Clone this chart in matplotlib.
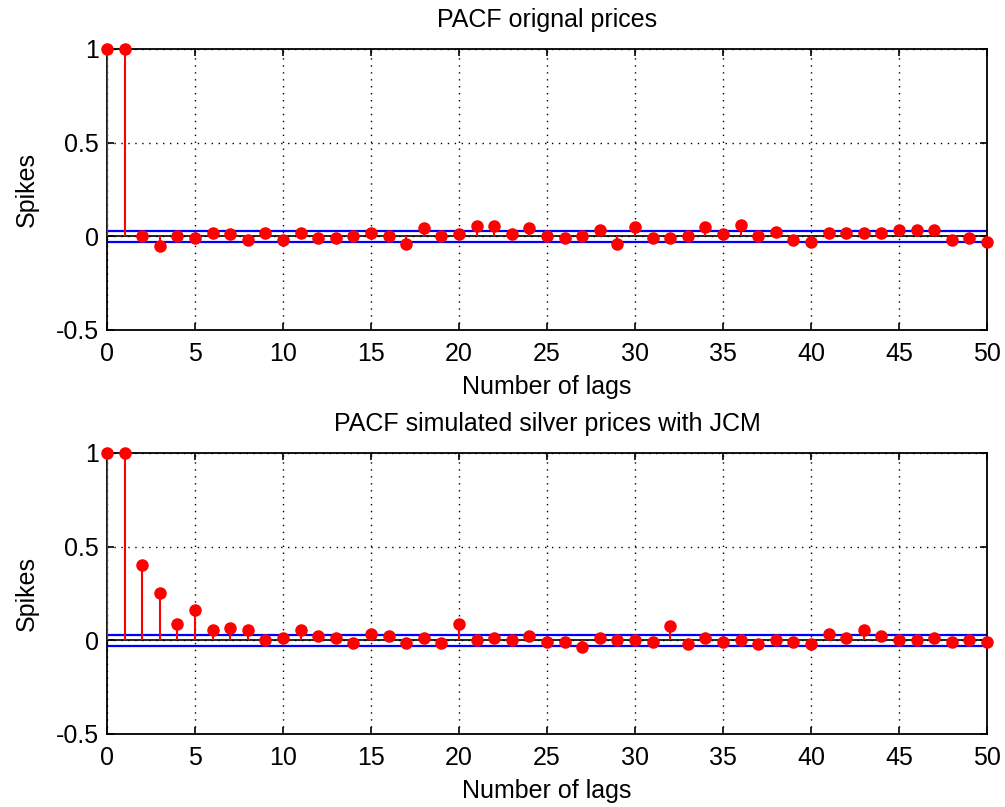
import numpy as np
import matplotlib
matplotlib.use('Agg')
import matplotlib.pyplot as plt

plt.rcParams['font.family'] = ['Liberation Sans', 'DejaVu Sans']

lags = np.arange(0, 51)

# PACF of the original prices (lags 0..50)
pacf_orig = [1.0, 1.0, 0.0, -0.053, 0.0, -0.01, 0.02, 0.01, -0.02, 0.02,
             -0.02, 0.02, -0.01, -0.01, 0.0, 0.02, 0.0, -0.043, 0.045, 0.0,
             0.01, 0.057, 0.057, 0.01, 0.045, 0.0, -0.01, 0.0, 0.033, -0.043,
             0.05, -0.01, -0.01, 0.0, 0.048, 0.015, 0.058, 0.0, 0.025, -0.02,
             -0.03, 0.02, 0.02, 0.02, 0.02, 0.033, 0.033, 0.033, -0.02, -0.01,
             -0.03]

# PACF of the simulated silver prices with JCM (lags 0..50)
pacf_sim = [1.0, 1.0, 0.40, 0.25, 0.086, 0.162, 0.053, 0.064, 0.053, 0.0,
            0.012, 0.053, 0.023, 0.012, -0.012, 0.032, 0.023, -0.012, 0.012, -0.012,
            0.087, 0.004, 0.012, 0.004, 0.023, -0.01, -0.01, -0.035, 0.01, 0.0,
            0.0, -0.01, 0.077, -0.02, 0.01, -0.01, 0.0, -0.02, 0.0, -0.01,
            -0.02, 0.035, 0.01, 0.053, 0.025, 0.0, 0.0, 0.01, -0.01, 0.0,
            -0.01]

conf_bound = 0.028
titles = ['PACF orignal prices', 'PACF simulated silver prices with JCM']

fig = plt.figure(figsize=(10.05, 8.07), dpi=100)
fig.patch.set_facecolor('white')
ax_top = fig.add_axes([0.1065, 0.5911, 0.8756, 0.3482])
ax_bot = fig.add_axes([0.1065, 0.0905, 0.8756, 0.3482])

fs = 18
for ax, vals, title in zip([ax_top, ax_bot], [pacf_orig, pacf_sim], titles):
    ax.vlines(lags, 0, vals, color='red', linewidth=1.5, zorder=3)
    ax.plot(lags, vals, 'o', color='red', markersize=8, zorder=4, clip_on=False)
    ax.axhline(0, color='black', linewidth=1.2, zorder=2)
    ax.axhline(conf_bound, color='blue', linewidth=1.6, zorder=2)
    ax.axhline(-conf_bound, color='blue', linewidth=1.6, zorder=2)

    ax.set_xlim(0, 50)
    ax.set_ylim(-0.5, 1)
    ax.set_xticks(np.arange(0, 51, 5))
    ax.set_yticks([-0.5, 0, 0.5, 1])
    ax.set_yticklabels(['-0.5', '0', '0.5', '1'])
    ax.grid(True, linestyle=(0, (1, 4)), color='black', linewidth=1.0)
    ax.tick_params(direction='in', top=True, right=True, labelsize=fs, length=5, width=1.2)
    ax.tick_params(axis='x', pad=9)
    ax.tick_params(axis='y', pad=6)
    for sp in ax.spines.values():
        sp.set_linewidth(1.3)
    ax.set_title(title, fontsize=fs, pad=16)
    ax.set_xlabel('Number of lags', fontsize=fs, labelpad=6)
    ax.set_ylabel('Spikes', fontsize=fs, labelpad=12)

plt.savefig('out.png', dpi=100, facecolor='white')
plt.close()
